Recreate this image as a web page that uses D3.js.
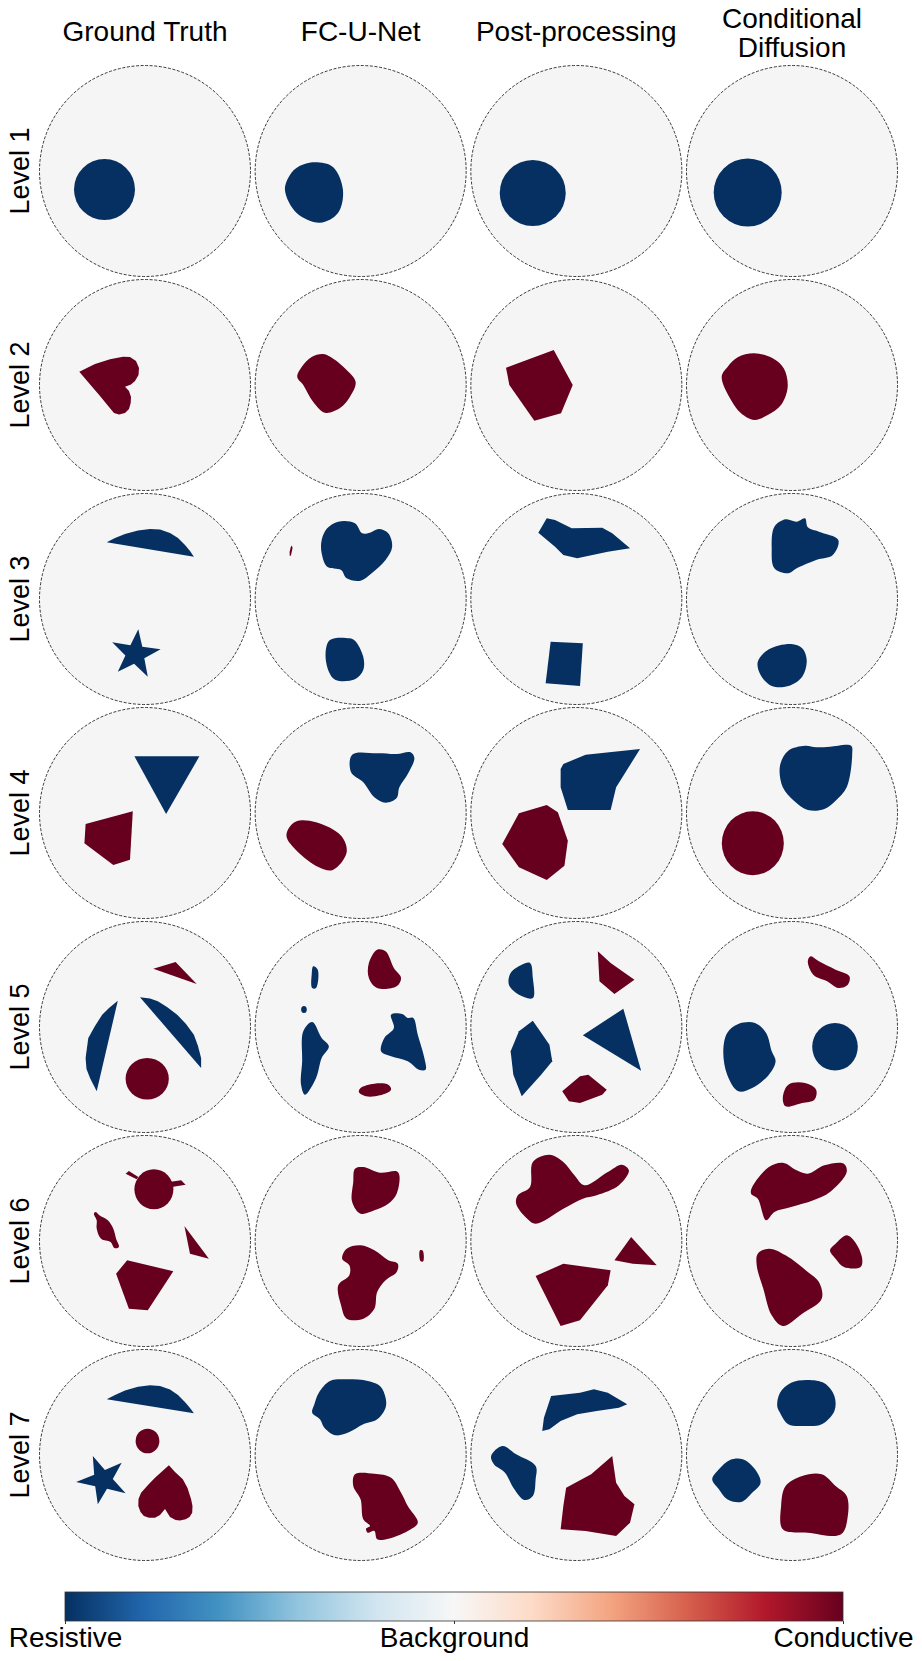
<!DOCTYPE html>
<html>
<head>
<meta charset="utf-8">
<script src="https://cdn.jsdelivr.net/npm/d3@7"></script>
<style>
body { margin: 0; background: #fff; }
svg text { font-family: "Liberation Sans", Arial, Helvetica, sans-serif; fill: #000; }
</style>
</head>
<body>
<div id="chart"></div>
<script>
// column titles (one entry per line), row names, colourbar ticks
const methods = [["Ground Truth"], ["FC-U-Net"], ["Post-processing"], ["Conditional", "Diffusion"]];
const levels = ["Level 1", "Level 2", "Level 3", "Level 4", "Level 5", "Level 6", "Level 7"];
const cbarValues = [-1, 0, 1];
const cbarLabels = ["Resistive", "Background", "Conductive"];

// inclusions for every level. col = method, v = -1 resistive / +1 conductive
// points are in tank units (tank radius 105.5, y pointing down)
const level1 = [
    {col: 0, v: -1, kind: "ell", c: [-40.5, 18.5], r: [30.5, 30.5]},
    {col: 1, v: -1, kind: "blob", pts: [[-45.7,-8.7],[-27.7,-4],[-17.7,19],[-22.7,42],[-40.7,51.7],[-64,42],[-75.7,19],[-70.7,4],[-62.4,-4.3]]},
    {col: 2, v: -1, kind: "ell", c: [-43.6, 22], r: [33, 33]},
    {col: 3, v: -1, kind: "ell", c: [-44.3, 21.5], r: [34, 34]}
];
const level2 = [
    {col: 0, v: 1, kind: "poly", pts: [[-65.7,-13.3],[-50,-21],[-35,-25.7],[-22,-28.3],[-15,-28],[-9,-24],[-6,-17],[-6.5,-10],[-10,-4],[-14,-0.5],[-20,1.7],[-16,6],[-14,12],[-14.3,18],[-16,24],[-20,28],[-26,29.5],[-31,28],[-36,22],[-45,11],[-57,-3]]},
    {col: 1, v: 1, kind: "blob", pts: [[-37.4,-31],[-27.4,-26.3],[-14,-15],[-5,-3],[-10.7,11.7],[-20.7,23],[-35.7,27.7],[-47.4,17],[-57.4,0],[-63.4,-8],[-59,-18],[-49,-28]]},
    {col: 2, v: 1, kind: "poly", pts: [[-70.3,-17.3],[-22.6,-35],[-3.6,0],[-15.3,28.3],[-42,35.7],[-67,0]]},
    {col: 3, v: 1, kind: "blob", pts: [[-37.7,-31.7],[-19.3,-26.7],[-8.3,-16.7],[-4.3,1.7],[-11,20],[-24.3,30],[-37.7,35],[-51,28.3],[-61,15],[-70.3,-8.3],[-64.3,-18.3],[-54.3,-27.7]]}
];
const level3 = [
    {col: 0, v: -1, kind: "poly", pts: [[-38.3,-56.7],[-30,-61],[-20,-65],[-7,-68.5],[5,-70],[15,-69.5],[25,-66],[33,-61],[40,-54],[45,-48],[48.9,-42.3]]},
    {col: 0, v: -1, kind: "poly", pts: [[-6.7,30.3],[-2.7,47.7],[15.6,50.3],[-0.7,59.2],[2.8,77.7],[-10.9,64.8],[-27.2,72.7],[-19.6,56.4],[-32.8,43.3],[-14.6,46.2]]},
    {col: 1, v: 1, kind: "poly", pts: [[-68.8,-53.5],[-68.1,-51],[-69.7,-43.5],[-70.9,-43],[-71.1,-47],[-69.9,-52]]},
    {col: 1, v: -1, kind: "blob", pts: [[-22.4,-77.3],[-5.7,-75.7],[1.5,-65.7],[9.3,-66.3],[18.2,-70],[27.6,-65.7],[31.5,-52.3],[24.9,-39],[11,-25.7],[-0.1,-18.3],[-14,-20.7],[-19.6,-29],[-33.5,-32.3],[-39,-45.7],[-39,-59],[-33.5,-70.7]]},
    {col: 1, v: -1, kind: "blob", pts: [[-30.7,41],[-11.3,39.3],[-5.7,41.7],[2.6,57.7],[2.6,71],[-5.7,80.3],[-25.1,81],[-31.8,72.7],[-35.1,54.3]]},
    {col: 2, v: -1, kind: "poly", pts: [[-38,-66.3],[-29.6,-80.7],[-21.3,-79],[-4.6,-70.7],[25.9,-71.3],[35.9,-65.7],[53.7,-50.7],[31.5,-47.3],[0.9,-40.7],[-13,-44],[-21.3,-52.3]]},
    {col: 2, v: -1, kind: "poly", pts: [[-25.7,42.7],[6.5,44.3],[3.7,87],[-30.7,84.3]]},
    {col: 3, v: -1, kind: "blob", pts: [[-17.6,-72.3],[-6.4,-79.7],[4.7,-77.3],[13,-80.7],[15.8,-71.7],[26.9,-67.3],[46.3,-59],[40.8,-44],[24.1,-39],[4.7,-30.7],[-3.7,-25.7],[-17.6,-30.7],[-20.3,-50.7]]},
    {col: 3, v: -1, kind: "blob", pts: [[-23.1,50.3],[-0.9,45],[10.2,49.3],[14.7,61],[10.2,77.7],[-3.7,87],[-20.3,87],[-31.4,76],[-34.2,62.7]]}
];
const level4 = [
    {col: 0, v: -1, kind: "poly", pts: [[-10.6,-56.7],[54.4,-56.7],[21.1,1]]},
    {col: 0, v: 1, kind: "poly", pts: [[-59.4,11],[-12.2,-1.7],[-15,46.7],[-31.7,52],[-60.6,30.3]]},
    {col: 1, v: -1, kind: "blob", pts: [[-8.5,-58.3],[16.5,-59.7],[36,-59],[49.9,-60.7],[53.7,-55],[47.1,-39],[38.7,-25.7],[36,-15],[24.9,-10.3],[13.7,-15.7],[2.6,-30.7],[-9.6,-40.7]]},
    {col: 1, v: 1, kind: "blob", pts: [[-64,8.3],[-44.6,9.3],[-19.6,22.7],[-14,39.3],[-27.9,57],[-41.8,54.3],[-64,37.7],[-74,24.3],[-72.4,16]]},
    {col: 2, v: -1, kind: "poly", pts: [[-13,-49],[9.3,-58.3],[63.7,-64],[48.1,-39],[39.8,-25.7],[34.3,-3],[-8.5,-3],[-15.7,-25.7],[-15.7,-44]]},
    {col: 2, v: 1, kind: "poly", pts: [[-57.4,0.3],[-29.6,-8],[-18.5,-0.7],[-8.5,27.7],[-11.9,52.7],[-29.6,67],[-57.4,54.3],[-74.1,31]]},
    {col: 3, v: -1, kind: "blob", pts: [[-12,-47.3],[-3.7,-62.3],[13,-67.3],[24.1,-65.7],[38,-66.3],[59.1,-67.3],[60.2,-59],[54.7,-25.7],[43.6,-12.3],[32.4,-4],[15.8,-3],[1.9,-12.3],[-9.2,-25.7]]},
    {col: 3, v: 1, kind: "ell", c: [-39.2, 30.2], r: [31, 32]}
];
const level5 = [
    {col: 0, v: 1, kind: "poly", pts: [[8.3,-58.3],[30.6,-65],[51.7,-43]]},
    {col: 0, v: -1, kind: "poly", pts: [[-27.2,-26.3],[-36,-19],[-42.8,-12.3],[-50,-1],[-56.7,11],[-59.4,31],[-58.5,42],[-55,51],[-48.3,64.3]]},
    {col: 0, v: -1, kind: "poly", pts: [[-5,-29.7],[5,-28.5],[12.8,-25.7],[22,-20],[32.2,-12.3],[41,-3],[48.9,7.7],[53,19],[56.1,31],[56.1,41]]},
    {col: 0, v: 1, kind: "ell", c: [2.2, 51.8], r: [21.6, 20.8]},
    {col: 1, v: -1, kind: "blob", pts: [[-47.4,-60.7],[-42.9,-57.3],[-44.6,-39],[-48.5,-39],[-49,-52.3]]},
    {col: 1, v: -1, kind: "ell", c: [-56.7, -17.5], r: [2.8, 3.5]},
    {col: 1, v: 1, kind: "blob", pts: [[16.5,-77.3],[24.9,-75.7],[33.2,-59],[40.4,-49],[36,-40.7],[16.5,-39],[8.2,-49],[8.2,-64]]},
    {col: 1, v: -1, kind: "blob", pts: [[-48.5,-5],[-39,11],[-31.8,19.3],[-39,31],[-44.6,51],[-55.7,67.7],[-59.6,57.7],[-58.5,34.3],[-57.4,4.3]]},
    {col: 1, v: -1, kind: "blob", pts: [[30.4,-12.3],[41.5,-13],[47.1,-9],[52.6,-9],[57.1,7.7],[63.7,31],[64.9,42.7],[58.2,42.7],[47.1,34.3],[30.4,29.3],[20.4,24.3],[23.7,11],[33.2,1]]},
    {col: 1, v: 1, kind: "blob", pts: [[-0.1,61],[13.7,56.7],[27.6,57.7],[30.4,62.7],[19.3,68.3],[5.4,69.3],[-1.8,65]]},
    {col: 2, v: -1, kind: "blob", pts: [[-54.6,-62.3],[-46.3,-64],[-43.5,-49],[-43.5,-29],[-57.4,-32.3],[-67.4,-42.3],[-65.7,-54]]},
    {col: 2, v: 1, kind: "poly", pts: [[21.5,-75.7],[34.3,-64],[58.1,-47.3],[38.1,-33],[23.1,-45.7]]},
    {col: 2, v: -1, kind: "poly", pts: [[-43.5,-6.3],[-26.9,17.7],[-24.1,34.3],[-35.2,47.7],[-54.6,69.3],[-63,47.7],[-65.7,24.3],[-57.4,4.3]]},
    {col: 2, v: -1, kind: "poly", pts: [[6.5,8.3],[47,-18.3],[64.8,43.7]]},
    {col: 2, v: 1, kind: "poly", pts: [[3.7,49.3],[12,47.7],[30.4,62.7],[25.9,67.7],[3.7,76],[-7.4,74.3],[-14.1,64.3]]},
    {col: 3, v: 1, kind: "blob", pts: [[18.6,-70.7],[26.9,-65.7],[43.6,-57.3],[57.4,-50.7],[55.8,-42.3],[46.3,-39],[35.2,-45.7],[21.3,-52.3],[15.8,-65.7]]},
    {col: 3, v: -1, kind: "blob", pts: [[-53.7,-3],[-37,-4],[-25.9,6],[-20.3,24.3],[-16.4,34.3],[-23.1,47.7],[-39.8,61],[-53.7,64.3],[-64.8,47.7],[-68.7,24.3],[-64.8,6]]},
    {col: 3, v: -1, kind: "ell", c: [43, 19.8], r: [22.8, 23.8]},
    {col: 3, v: 1, kind: "blob", pts: [[-3.7,57.7],[13,56],[24.1,62.7],[22.4,72.7],[10.2,76],[-6.4,79.3],[-9.2,71]]}
];
const level6 = [
    {col: 0, v: 1, kind: "ell", c: [8.9, -51.7], r: [19.5, 20]},
    {col: 0, v: 1, kind: "poly", pts: [[-19.4,-67.3],[-16.1,-70],[-6.7,-64],[-8.3,-61.7]]},
    {col: 0, v: 1, kind: "poly", pts: [[23.9,-59],[36.1,-60.7],[40.6,-56.3],[26.7,-54]]},
    {col: 0, v: 1, kind: "blob", pts: [[-49.4,-29],[-45.6,-25.7],[-37.2,-20.7],[-31.7,-12.3],[-28.9,-2.3],[-26.1,6],[-30.6,7],[-34.4,1],[-43.9,-2.3],[-48.3,-12.3],[-48.3,-20.7],[-51.1,-27.3]]},
    {col: 0, v: 1, kind: "poly", pts: [[39.4,-15],[63.9,17.7],[45,12.7]]},
    {col: 0, v: 1, kind: "poly", pts: [[-17.8,19.3],[28.3,30.3],[2.8,69.3],[-16.1,67.7],[-28.9,32.7]]},
    {col: 1, v: 1, kind: "blob", pts: [[-5.7,-72.3],[2.6,-74],[19.3,-68.3],[36,-69.7],[38.7,-65.7],[36,-47.3],[27.6,-37.3],[13.7,-30.7],[-0.1,-27.3],[-8.5,-39],[-7.4,-59]]},
    {col: 1, v: 1, kind: "blob", pts: [[-14,7.7],[-0.1,4.3],[13.7,9.3],[27.6,19.3],[37.1,22.7],[36,31],[24.9,39.3],[16.5,51],[13.7,67.7],[2.6,77.7],[-14,77.7],[-19.6,64.3],[-22.4,44.3],[-11.3,34.3],[-11.3,24.3],[-18.5,17.7]]},
    {col: 1, v: 1, kind: "blob", pts: [[59.3,9.3],[62,9.5],[62.6,20.3],[59.8,20]]},
    {col: 2, v: 1, kind: "blob", pts: [[-43.5,-79],[-26.9,-86.3],[-13,-79],[-1.9,-65.7],[8.1,-55.7],[31.5,-69],[45.4,-76.3],[52.6,-70.7],[42.6,-55.7],[20.4,-45.7],[6.5,-42.3],[-13,-32.3],[-40.7,-17.3],[-49.1,-22.3],[-60.2,-37.3],[-58.5,-45.7],[-46.3,-54]]},
    {col: 2, v: 1, kind: "poly", pts: [[38.1,19.3],[54.8,-4],[80.4,24.3],[56.5,22.7]]},
    {col: 2, v: 1, kind: "poly", pts: [[-40.7,35],[-13,22.7],[34.3,29.3],[31.5,44.3],[3.7,79.3],[-15.7,85]]},
    {col: 3, v: 1, kind: "blob", pts: [[-39.8,-54],[-23.1,-74],[-9.2,-78.3],[4.7,-70.7],[15.8,-67.3],[32.4,-75.7],[51.9,-77.3],[54.7,-69],[38,-49],[21.3,-40.7],[-0.9,-34],[-17.6,-29],[-25.9,-20.7],[-34.2,-42.3],[-40.9,-47.3]]},
    {col: 3, v: 1, kind: "blob", pts: [[54.7,-5.7],[63,1],[70.2,17.7],[68.6,26],[51.9,26],[43.6,17.7],[38,9.3],[43.6,2.7]]},
    {col: 3, v: 1, kind: "blob", pts: [[-34.2,12.7],[-23.1,7.7],[-6.4,14.3],[15.8,31],[26.9,41],[29.7,57.7],[10.2,72.7],[-9.2,85],[-20.3,74.3],[-28.7,47.7],[-35.3,24.3]]}
];
const level7 = [
    {col: 0, v: -1, kind: "poly", pts: [[-38.3,-55.7],[-30,-60],[-20,-64.5],[-7,-68.3],[5,-69.7],[15,-69],[25,-65.5],[33,-60],[40.6,-52.3],[45,-47],[48.9,-41.7]]},
    {col: 0, v: 1, kind: "ell", c: [2.5, -14], r: [11.9, 12.3]},
    {col: 0, v: -1, kind: "poly", pts: [[-52.2,1],[-40.1,14.9],[-23.3,7.7],[-32.2,23.9],[-19.4,38.3],[-38,33.8],[-47.2,49.3],[-49.8,31.2],[-68.9,27],[-50.8,19.7]]},
    {col: 0, v: 1, kind: "poly", pts: [[23.9,10.3],[30,17],[37.8,24.3],[42.5,33],[46.1,44.3],[47.5,51],[47.2,57.7],[44.5,62],[40.6,64.3],[35,65.5],[30.6,65],[25,62],[20,54],[15,60],[10,62.7],[4,62.8],[-1.1,61],[-4.5,57],[-6.7,51],[-6.5,44],[-3.9,37.7],[3,30],[10,22.7]]},
    {col: 1, v: -1, kind: "blob", pts: [[-41.8,-62.3],[-30.7,-74],[-14,-75.7],[2.6,-75],[19.3,-69],[24.9,-57.3],[24.9,-47.3],[16.5,-35.7],[2.6,-30.7],[-11.3,-23],[-25.1,-19.7],[-36.3,-27.3],[-40.7,-35.7],[-48.5,-42.3],[-46.3,-50.7]]},
    {col: 1, v: 1, kind: "blob", pts: [[-5.7,19.3],[13.7,18.7],[30.4,22.7],[40.4,37.7],[47.1,51],[57.1,67.7],[47.1,76],[27.6,83.7],[16.5,84.3],[13.7,76],[7.1,77.7],[5.4,73.7],[9.3,71],[2.6,64.3],[-0.1,44.3],[-7.4,31]]},
    {col: 2, v: -1, kind: "poly", pts: [[-25.2,-59],[3.7,-62.3],[17.6,-65.7],[31.5,-62.3],[50.9,-50.7],[42.6,-47.3],[20.4,-44],[0.9,-40.7],[-15.7,-34],[-26.9,-25.7],[-34.1,-24],[-32.4,-37.3]]},
    {col: 2, v: -1, kind: "blob", pts: [[-85.2,1],[-74.1,-9],[-60.2,-0.7],[-40.7,11],[-40.7,24.3],[-43.5,41],[-51.9,45],[-63,32.7],[-71.3,17.7],[-82.4,9.3]]},
    {col: 2, v: 1, kind: "poly", pts: [[-10.2,32.7],[14.8,19.3],[35.9,1],[39.8,27.7],[48.1,41],[58.1,49.3],[53.7,67.7],[39.8,81],[9.3,76],[-15.7,74.3],[-13,51]]},
    {col: 3, v: -1, kind: "blob", pts: [[-12,-62.3],[-0.9,-72.3],[15.8,-75],[32.4,-71.7],[42.4,-59],[42.4,-44],[29.7,-30.7],[13,-29],[-3.7,-30.7],[-12,-42.3],[-14.8,-49]]},
    {col: 3, v: -1, kind: "blob", pts: [[-73.1,14.3],[-62,5],[-49.2,4.3],[-37,14.3],[-31.4,27.7],[-39.8,37.7],[-50.9,47],[-64.8,44.3],[-73.1,34.3],[-79.8,24.3]]},
    {col: 3, v: 1, kind: "blob", pts: [[-6.4,31],[10.2,21],[29.7,19.3],[43.6,31],[54.7,41],[55.8,61],[49.1,79.3],[15.8,77.7],[-9.2,74.3],[-10.9,51]]}
];
const allLevels = [level1, level2, level3, level4, level5, level6, level7];

const width = 922, height = 1661;
const TANK = 105.5;

const svg = d3.select("#chart").append("svg")
    .attr("width", width)
    .attr("height", height);

const colX = d3.scalePoint().domain(d3.range(methods.length)).range([145, 792]);
const rowY = d3.scalePoint().domain(levels).range([171, 1455]);
// RdBu reversed (11-step scheme, linear between stops): resistive -> dark blue, conductive -> dark red
const rdbu = d3.schemeRdBu[11].slice().reverse();
const color = d3.scaleLinear()
    .domain(rdbu.map((c, k) => -1 + 2 * k / (rdbu.length - 1)))
    .range(rdbu)
    .interpolate(d3.interpolateRgb);

// column titles
methods.forEach((lines, j) => {
    const first = 41 - 13.5 * (lines.length - 1);
    lines.forEach((txt, k) => {
        svg.append("text")
            .attr("x", colX(j))
            .attr("y", first + k * 29.5)
            .attr("text-anchor", "middle")
            .style("font-size", "28px")
            .text(txt);
    });
});

// row labels
svg.selectAll(".row-label")
    .data(levels)
    .enter()
    .append("text")
    .attr("class", "row-label")
    .attr("transform", d => `translate(29,${rowY(d)}) rotate(-90)`)
    .attr("text-anchor", "middle")
    .style("font-size", "27px")
    .text(d => d);

// the tank images
levels.forEach((lev, i) => {
    methods.forEach((m, j) => {
        const cx = colX(j), cy = rowY(lev);
        const lx = d3.scaleLinear().domain([-TANK, TANK]).range([cx - TANK, cx + TANK]);
        const ly = d3.scaleLinear().domain([-TANK, TANK]).range([cy - TANK, cy + TANK]);
        const smooth = d3.line().x(p => lx(p[0])).y(p => ly(p[1])).curve(d3.curveCatmullRomClosed.alpha(0.5));
        const sharp = d3.line().x(p => lx(p[0])).y(p => ly(p[1])).curve(d3.curveLinearClosed);

        const cell = svg.append("g").attr("class", "cell");
        cell.append("circle")
            .attr("cx", cx).attr("cy", cy).attr("r", TANK)
            .attr("fill", "#f5f5f5");

        allLevels[i].filter(s => s.col === j).forEach(s => {
            if (s.kind === "ell") {
                cell.append("ellipse")
                    .attr("cx", lx(s.c[0]))
                    .attr("cy", ly(s.c[1]))
                    .attr("rx", lx(s.r[0]) - lx(0))
                    .attr("ry", ly(s.r[1]) - ly(0))
                    .attr("fill", color(s.v));
            } else {
                cell.append("path")
                    .attr("d", s.kind === "blob" ? smooth(s.pts) : sharp(s.pts))
                    .attr("fill", color(s.v));
            }
        });

        cell.append("circle")
            .attr("cx", cx).attr("cy", cy).attr("r", TANK)
            .attr("fill", "none")
            .attr("stroke", "#222")
            .attr("stroke-width", 0.9)
            .attr("stroke-dasharray", "3,1.6");
    });
});

// colourbar
const cbX = d3.scaleLinear().domain([-1, 1]).range([65, 843]);
const cbTop = 1592, cbH = 29;
const grad = svg.append("defs").append("linearGradient")
    .attr("id", "rdbu")
    .attr("x1", "0%").attr("x2", "100%");
rdbu.forEach((c, k) => {
    grad.append("stop")
        .attr("offset", (100 * k / (rdbu.length - 1)) + "%")
        .attr("stop-color", c);
});
svg.append("rect")
    .attr("x", cbX(-1)).attr("y", cbTop)
    .attr("width", cbX(1) - cbX(-1)).attr("height", cbH)
    .attr("fill", "url(#rdbu)")
    .attr("stroke", "#333")
    .attr("stroke-width", 0.8);

const cbAxis = svg.append("g")
    .attr("transform", `translate(0,${cbTop + cbH})`)
    .call(d3.axisBottom(cbX)
        .tickValues(cbarValues)
        .tickFormat((d, i) => cbarLabels[i])
        .tickSize(3)
        .tickPadding(3));
cbAxis.select(".domain").remove();
cbAxis.selectAll("text")
    .style("font-size", "28px")
    .style("font-family", "'Liberation Sans', Arial, sans-serif")
    .attr("fill", "#000");
cbAxis.selectAll("line").attr("stroke", "#333");
</script>
</body>
</html>
